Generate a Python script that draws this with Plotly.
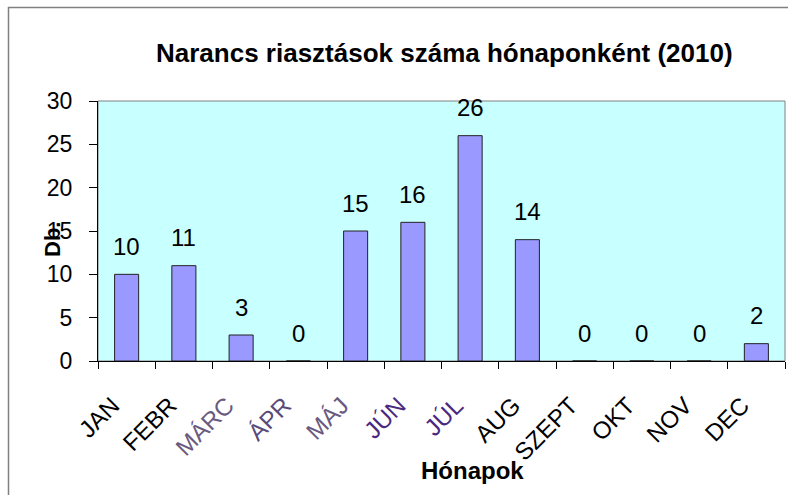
import plotly.graph_objects as go

months = ["JAN", "FEBR", "MÁRC", "ÁPR", "MÁJ", "JÚN", "JÚL", "AUG", "SZEPT", "OKT", "NOV", "DEC"]
values = [10, 11, 3, 0, 15, 16, 26, 14, 0, 0, 0, 2]
label_colors = ["#000000", "#000000", "#6a5a80", "#5a4a7a", "#6a5a80", "#4a2a80", "#4a2a80",
                "#000000", "#000000", "#000000", "#000000", "#000000"]
title_text = "Narancs riasztások száma hónaponként (2010)"
y_title = "Db."
x_title = "Hónapok"

FONT = "Liberation Sans, Arial"
W, H = 788, 495
L, R, T, B = 98, 3, 101, 134
pw, ph = W - L - R, H - T - B

def px(x):
    return (x - L) / pw

def py(y):
    return (H - B - y) / ph

ticktext = [f"<span style='color:{c}'>{m}</span>" for m, c in zip(months, label_colors)]

fig = go.Figure(go.Bar(
    x=months, y=values,
    marker=dict(color="#9999FF", line=dict(color="#222222", width=1)),
    width=0.42, hoverinfo="x+y",
))

annotations = [
    dict(x=m, y=v, xref="x", yref="y", text=str(v), showarrow=False,
         xanchor="center", yanchor="middle", yshift=28,
         font=dict(family=FONT, size=24, color="#000000"))
    for m, v in zip(months, values)
]
annotations += [
    dict(text=f"<b>{title_text}</b>", xref="paper", yref="paper", x=px(444), y=py(53),
         xanchor="center", yanchor="middle", showarrow=False, font=dict(size=26, family=FONT)),
    dict(text=f"<b>{y_title}</b>", xref="paper", yref="paper", x=px(52), y=py(240),
         xanchor="center", yanchor="middle", showarrow=False, textangle=-90,
         font=dict(size=22, family=FONT)),
    dict(text=f"<b>{x_title}</b>", xref="paper", yref="paper", x=px(472), y=py(470),
         xanchor="center", yanchor="middle", showarrow=False, font=dict(size=24, family=FONT)),
]

fig.update_layout(
    width=W, height=H,
    margin=dict(l=L, r=R, t=T, b=B),
    paper_bgcolor="#FFFFFF", plot_bgcolor="#C8FFFF",
    showlegend=False,
    font=dict(family=FONT, color="#000000"),
    xaxis=dict(
        type="category", tickmode="array", tickvals=months, ticktext=ticktext,
        tickangle=-45, tickson="boundaries", ticks="outside", ticklen=7, tickcolor="#000000",
        showline=True, linecolor="#000000", linewidth=1, showgrid=False,
        tickfont=dict(family=FONT, size=24, color="#000000"),
        range=[-0.5, 11.5], automargin=False,
        ticklabelstandoff=20, ticklabelshift=-14,
    ),
    yaxis=dict(
        range=[0, 30], dtick=5, ticks="outside", ticklen=8, tickcolor="#000000",
        showline=True, linecolor="#000000", linewidth=1, showgrid=False, zeroline=False,
        tickfont=dict(family=FONT, size=23, color="#000000"), automargin=False,
        ticklabelstandoff=12,
    ),
    shapes=[
        dict(type="rect", xref="paper", yref="paper", x0=0, y0=0, x1=1, y1=1,
             line=dict(color="#808080", width=1), layer="below"),
        dict(type="rect", xref="paper", yref="paper", x0=px(8.5), y0=py(500), x1=px(795), y1=py(7.5),
             line=dict(color="#808080", width=1.5)),
    ],
    annotations=annotations,
)

fig.write_html("out.html", config={"displayModeBar": False},
               post_script="document.body.style.margin='0px';")
